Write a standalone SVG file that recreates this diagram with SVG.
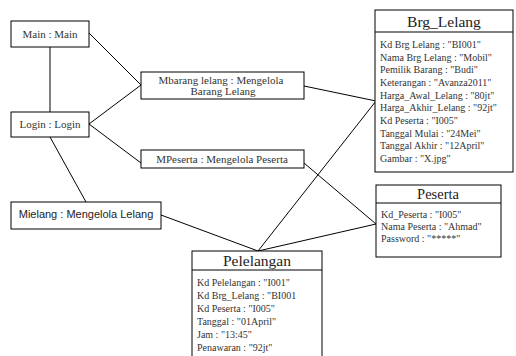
<svg xmlns="http://www.w3.org/2000/svg" width="516" height="356" viewBox="0 0 516 356">
  <style>
    .box { fill: #ffffff; stroke: #000000; stroke-width: 1; }
    .link { stroke: #000000; stroke-width: 1; fill: none; }
    .lbl { font-family: "Liberation Serif", "Times New Roman", serif; font-size: 11px; fill: #333333; text-anchor: middle; }
    .lbl-sans { font-family: "Liberation Sans", Arial, sans-serif; font-size: 11px; fill: #222222; text-anchor: middle; }
    .title { font-family: "Liberation Serif", "Times New Roman", serif; font-size: 15.5px; fill: #222222; text-anchor: middle; }
    .attr { font-family: "Liberation Serif", "Times New Roman", serif; font-size: 10px; fill: #333333; }
  </style>
  <rect width="516" height="356" fill="#ffffff"/>

  <!-- connectors -->
  <g id="connectors">
    <line class="link" x1="50" y1="47" x2="50" y2="112"/>
    <line class="link" x1="89" y1="33" x2="141" y2="85"/>
    <line class="link" x1="89" y1="124" x2="141" y2="85"/>
    <line class="link" x1="89" y1="124" x2="141" y2="163"/>
    <line class="link" x1="50" y1="137" x2="86" y2="202"/>
    <line class="link" x1="161" y1="215" x2="258" y2="251"/>
    <line class="link" x1="304" y1="86" x2="376" y2="101"/>
    <line class="link" x1="376" y1="101" x2="258" y2="251"/>
    <line class="link" x1="304" y1="163" x2="376" y2="224"/>
    <line class="link" x1="376" y1="224" x2="258" y2="251"/>
  </g>

  <!-- process nodes -->
  <g id="main">
    <rect class="box" x="11" y="21" width="78" height="26"/>
    <text class="lbl" x="50" y="38">Main : Main</text>
  </g>
  <g id="login">
    <rect class="box" x="11" y="112" width="78" height="25"/>
    <text class="lbl" x="50" y="128">Login : Login</text>
  </g>
  <g id="mbarang">
    <rect class="box" x="141" y="72" width="163" height="27"/>
    <text class="lbl" x="221" y="84">Mbarang lelang : Mengelola</text>
    <text class="lbl" x="223" y="95">Barang Lelang</text>
  </g>
  <g id="mpeserta">
    <rect class="box" x="141" y="150" width="163" height="18"/>
    <text class="lbl" x="222" y="163">MPeserta : Mengelola Peserta</text>
  </g>
  <g id="mlelang">
    <rect class="box" x="11" y="202" width="150" height="27"/>
    <text class="lbl-sans" x="86" y="218">Mielang : Mengelola Lelang</text>
  </g>

  <!-- data objects -->
  <g id="brg-lelang">
    <rect class="box" x="375" y="10" width="138" height="162"/>
    <line class="link" x1="375" y1="32" x2="513" y2="32"/>
    <text class="title" x="444" y="27">Brg_Lelang</text>
    <text class="attr" x="380" y="48">Kd Brg Lelang : "BI001"</text>
    <text class="attr" x="380" y="60.7">Nama Brg Lelang : "Mobil"</text>
    <text class="attr" x="380" y="73.3">Pemilik Barang : "Budi"</text>
    <text class="attr" x="380" y="86">Keterangan : "Avanza2011"</text>
    <text class="attr" x="380" y="98.7">Harga_Awal_Lelang : "80jt"</text>
    <text class="attr" x="380" y="111.3">Harga_Akhir_Lelang : "92jt"</text>
    <text class="attr" x="380" y="124">Kd Peserta : "I005"</text>
    <text class="attr" x="380" y="136.7">Tanggal Mulai : "24Mei"</text>
    <text class="attr" x="380" y="149.3">Tanggal Akhir : "12April"</text>
    <text class="attr" x="380" y="162">Gambar : "X.jpg"</text>
  </g>
  <g id="peserta">
    <rect class="box" x="376" y="185" width="125" height="72"/>
    <line class="link" x1="376" y1="203" x2="501" y2="203"/>
    <text class="title" x="438" y="199" style="font-size:14.5px">Peserta</text>
    <text class="attr" x="381" y="218">Kd_Peserta : "I005"</text>
    <text class="attr" x="381" y="230">Nama Peserta : "Ahmad"</text>
    <text class="attr" x="381" y="242">Password : "*****"</text>
  </g>
  <g id="pelelangan">
    <rect class="box" x="192" y="251" width="130" height="112"/>
    <line class="link" x1="192" y1="270" x2="322" y2="270"/>
    <text class="title" x="257" y="266">Pelelangan</text>
    <text class="attr" x="197" y="286">Kd Pelelangan : "I001"</text>
    <text class="attr" x="197" y="299">Kd Brg_Lelang : "BI001</text>
    <text class="attr" x="197" y="312">Kd Peserta : "I005"</text>
    <text class="attr" x="197" y="325">Tanggal : "01April"</text>
    <text class="attr" x="197" y="338">Jam : "13:45"</text>
    <text class="attr" x="197" y="351">Penawaran : "92jt"</text>
  </g>
</svg>
